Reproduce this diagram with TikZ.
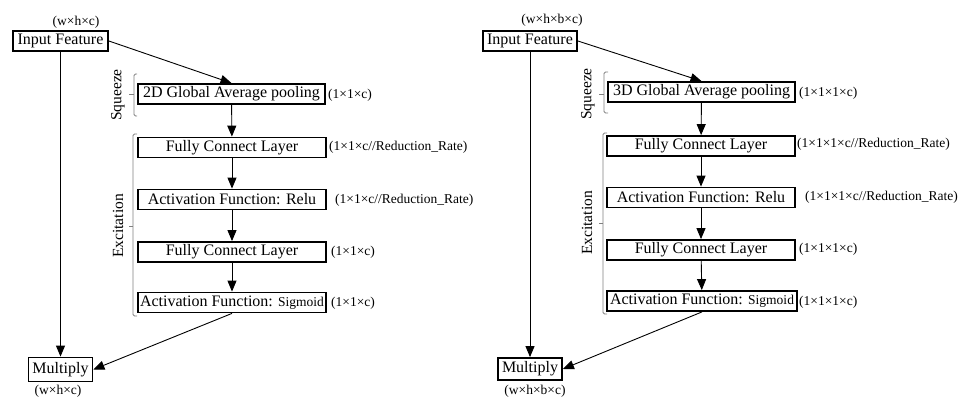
\documentclass[tikz,border=0pt]{standalone}
\usepackage{fontspec}
\setmainfont{Liberation Serif}
\usetikzlibrary{arrows.meta}
\begin{document}
\begin{tikzpicture}[x=1pt,y=-1pt,
 box/.style={draw, line width=1.8pt, inner sep=0pt, minimum height=20pt, font=\fontsize{16}{18}\selectfont},
 wide/.style={box, minimum width=188pt},
 lbl/.style={font=\fontsize{13.5}{15}\selectfont, inner sep=0pt, anchor=west},
 dim/.style={font=\fontsize{13.5}{15}\selectfont, inner sep=0pt},
 arr/.style={line width=0.9pt, -{Triangle[length=11pt,width=9pt]}},
 brk/.style={draw=gray, line width=0.8pt, rounded corners=1.5pt},
 side/.style={font=\fontsize{15.5}{17}\selectfont, rotate=90, inner sep=0pt}
]
\useasboundingbox (0,0) rectangle (960,396);
\newcommand{\smsig}{{\fontsize{13.5}{15}\selectfont Sigmoid}}

% ---------- left panel ----------
\node[dim] (d1t) at (76,22) {(w×h×c)};
\node[box, minimum width=95pt] (in1) at (60.5,41) {Input Feature};
\node[wide, minimum width=187pt] (p1) at (231.5,94) {2D Global Average pooling};
\node[wide] (f1a) at (232,147.5) {Fully Connect Layer};
\node[wide] (r1) at (232,199.5) {Activation Function: Relu};
\node[wide] (f1b) at (232,252) {Fully Connect Layer};
\node[wide] (s1) at (232,302.5) {Activation Function: \smsig};
\node[box, minimum width=64pt, minimum height=24pt] (m1) at (60.5,369.5) {Multiply};
\node[dim] (d1b) at (58,391) {(w×h×c)};

\node[lbl] (l1p) at (328,95) {(1×1×c)};
\node[lbl] (l1a) at (329,147) {(1×1×c//Reduction\_Rate)};
\node[lbl] (l1r) at (335,200) {(1×1×c//Reduction\_Rate)};
\node[lbl] (l1b) at (331,252) {(1×1×c)};
\node[lbl] (l1s) at (331,303) {(1×1×c)};

\draw[arr] (in1.east) -- (p1.north);
\draw[arr] (p1) -- (f1a);
\draw[arr] (f1a) -- (r1);
\draw[arr] (r1) -- (f1b);
\draw[arr] (f1b) -- (s1);
\draw[arr] (in1) -- (m1);
\draw[arr] (s1.south) -- (m1.east);

\draw[brk] (137,74) -- (134,74) -- (134,116) -- (137,116);
\draw[brk] (134,94) -- (129,94);
\node[side] (sq1) at (118,95) {Squeeze};
\draw[brk] (137,134) -- (133,134) -- (133,316) -- (137,316);
\draw[brk] (133,226) -- (129,226);
\node[side] (ex1) at (118,226) {Excitation};

% ---------- right panel ----------
\node[dim] (d2t) at (552,20) {(w×h×b×c)};
\node[box, minimum width=94pt] (in2) at (530,41) {Input Feature};
\node[wide, minimum width=187pt] (p2) at (701.5,92) {3D Global Average pooling};
\node[wide] (f2a) at (701,146) {Fully Connect Layer};
\node[wide] (r2) at (701,197.5) {Activation Function: Relu};
\node[wide] (f2b) at (701,250) {Fully Connect Layer};
\node[wide, minimum width=190pt] (s2) at (702,301) {Activation Function: \smsig};
\node[box, minimum width=64pt, minimum height=22pt] (m2) at (530,369) {Multiply};
\node[dim] (d2b) at (535,391) {(w×h×b×c)};

\node[lbl] (l2p) at (799,93) {(1×1×1×c)};
\node[lbl] (l2a) at (797,144) {(1×1×1×c//Reduction\_Rate)};
\node[lbl] (l2r) at (805,197) {(1×1×1×c//Reduction\_Rate)};
\node[lbl] (l2b) at (799,249) {(1×1×1×c)};
\node[lbl] (l2s) at (799,302) {(1×1×1×c)};

\draw[arr] (in2.east) -- (p2.north);
\draw[arr] (p2) -- (f2a);
\draw[arr] (f2a) -- (r2);
\draw[arr] (r2) -- (f2b);
\draw[arr] (f2b) -- (s2);
\draw[arr] (in2) -- (m2);
\draw[arr] (s2.south) -- (m2.east);

\draw[brk] (608,72) -- (604,72) -- (604,113) -- (608,113);
\draw[brk] (604,94) -- (599,94);
\node[side] (sq2) at (588,94) {Squeeze};
\draw[brk] (607,133) -- (603,133) -- (603,314) -- (607,314);
\draw[brk] (603,223) -- (599,223);
\node[side] (ex2) at (587,223) {Excitation};
\end{tikzpicture}
\end{document}
